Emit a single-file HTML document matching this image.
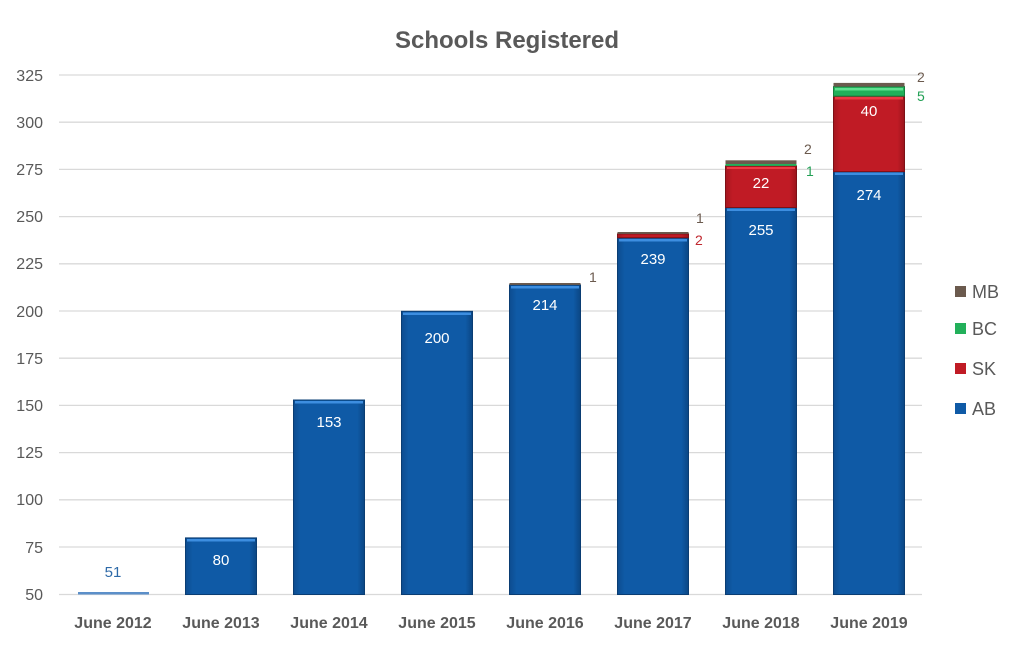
<!DOCTYPE html>
<html><head><meta charset="utf-8"><style>
body{margin:0;background:#fff}
svg{display:block;font-family:"Liberation Sans",Arial,sans-serif}
</style></head><body>
<svg width="1024" height="645" viewBox="0 0 1024 645" xmlns="http://www.w3.org/2000/svg">
<defs>
<linearGradient id="ab" x1="0" x2="1" y1="0" y2="0"><stop offset="0" stop-color="#0d4c8f"/><stop offset="0.1" stop-color="#0f5aa6"/><stop offset="0.9" stop-color="#0f5aa6"/><stop offset="1" stop-color="#0b4683"/></linearGradient>
<linearGradient id="sk" x1="0" x2="1" y1="0" y2="0"><stop offset="0" stop-color="#a5161f"/><stop offset="0.1" stop-color="#c01b25"/><stop offset="0.9" stop-color="#c01b25"/><stop offset="1" stop-color="#9a141c"/></linearGradient>
</defs>
<text x="507" y="48" text-anchor="middle" font-size="24" font-weight="bold" fill="#595959">Schools Registered</text>
<g stroke="#d9d9d9" stroke-width="1.3">
<line x1="59" x2="922" y1="75" y2="75"/><line x1="59" x2="922" y1="122.2" y2="122.2"/><line x1="59" x2="922" y1="169.4" y2="169.4"/><line x1="59" x2="922" y1="216.6" y2="216.6"/><line x1="59" x2="922" y1="263.8" y2="263.8"/><line x1="59" x2="922" y1="311" y2="311"/><line x1="59" x2="922" y1="358.2" y2="358.2"/><line x1="59" x2="922" y1="405.4" y2="405.4"/><line x1="59" x2="922" y1="452.6" y2="452.6"/><line x1="59" x2="922" y1="499.8" y2="499.8"/><line x1="59" x2="922" y1="547" y2="547"/><line x1="59" x2="922" y1="594.5" y2="594.5"/>
</g>
<g font-size="16" fill="#595959" text-anchor="end">
<text x="43" y="81">325</text><text x="43" y="128">300</text><text x="43" y="175">275</text><text x="43" y="222">250</text><text x="43" y="269">225</text><text x="43" y="317">200</text><text x="43" y="364">175</text><text x="43" y="411">150</text><text x="43" y="458">125</text><text x="43" y="505">100</text><text x="43" y="553">75</text><text x="43" y="600">50</text>
</g>
<!-- bars -->
<rect x="78" y="592" width="71" height="2.5" fill="#5b8fc9"/>
<g fill="url(#ab)" stroke="#0a3d73" stroke-width="1">
<rect x="185.5" y="537.9" width="71" height="56.6"/>
<rect x="293.5" y="400" width="71" height="194.5"/>
<rect x="401.5" y="311.3" width="71" height="283.2"/>
<rect x="509.5" y="284.9" width="71" height="309.6"/>
<rect x="617.5" y="237.7" width="71" height="356.8"/>
<rect x="725.5" y="207.5" width="71" height="387"/>
<rect x="833.5" y="171.6" width="71" height="422.9"/>
</g>
<g fill="#3d8ee0"><rect x="187" y="539" width="68" height="2.5"/><rect x="295" y="401" width="68" height="2.5"/><rect x="403" y="312.5" width="68" height="2.5"/><rect x="511" y="286" width="68" height="2.5"/><rect x="619" y="239" width="68" height="2.5"/><rect x="727" y="208.5" width="68" height="2.5"/><rect x="835" y="172.5" width="68" height="2.5"/></g>
<g fill="url(#sk)" stroke="#7d1016" stroke-width="1">
<rect x="617.5" y="233.9" width="71" height="3.8"/>
<rect x="725.5" y="165.9" width="71" height="41.6"/>
<rect x="833.5" y="96.1" width="71" height="75.5"/>
</g>
<g fill="#ee3a44"><rect x="727" y="167" width="68" height="2"/><rect x="835" y="97" width="68" height="2.5"/></g>
<g fill="#22b05a"><rect x="725.5" y="164" width="71" height="1.9"/><rect x="833.5" y="86.6" width="71" height="9.5" stroke="#15803d"/></g>
<rect x="835" y="88" width="68" height="2.5" fill="#5fe08f"/>
<g fill="#6b5a4e"><rect x="509.5" y="283" width="71" height="1.9"/><rect x="617.5" y="232" width="71" height="1.9"/><rect x="725.5" y="160.3" width="71" height="3.7"/><rect x="833.5" y="82.9" width="71" height="3.7"/></g>
<!-- labels inside -->
<g font-size="15" fill="#fff" text-anchor="middle">
<text x="221" y="565">80</text><text x="329" y="427">153</text><text x="437" y="343">200</text><text x="545" y="310">214</text><text x="653" y="264">239</text><text x="761" y="235">255</text><text x="869" y="200">274</text><text x="761" y="188">22</text><text x="869" y="116">40</text>
</g>
<text x="113" y="577" font-size="15" fill="#2e6aa8" text-anchor="middle">51</text>
<g font-size="14">
<text x="589" y="282" fill="#6b5a4e">1</text>
<text x="696" y="223" fill="#6b5a4e">1</text><text x="695" y="245" fill="#c0282f">2</text>
<text x="804" y="154" fill="#6b5a4e">2</text><text x="806" y="176" fill="#22a055">1</text>
<text x="917" y="82" fill="#6b5a4e">2</text><text x="917" y="101" fill="#22a055">5</text>
</g>
<g font-size="16" font-weight="bold" fill="#595959" text-anchor="middle">
<text x="113" y="628">June 2012</text><text x="221" y="628">June 2013</text><text x="329" y="628">June 2014</text><text x="437" y="628">June 2015</text><text x="545" y="628">June 2016</text><text x="653" y="628">June 2017</text><text x="761" y="628">June 2018</text><text x="869" y="628">June 2019</text>
</g>
<!-- legend -->
<rect x="955" y="286" width="11" height="11" fill="#6b5a4e"/>
<rect x="955" y="323" width="11" height="11" fill="#22b05a"/>
<rect x="955" y="363" width="11" height="11" fill="#c01b25"/>
<rect x="955" y="403" width="11" height="11" fill="#0f5aa6"/>
<g font-size="18" fill="#595959">
<text x="972" y="298">MB</text><text x="972" y="335">BC</text><text x="972" y="375">SK</text><text x="972" y="415">AB</text>
</g>
</svg>
</body></html>
